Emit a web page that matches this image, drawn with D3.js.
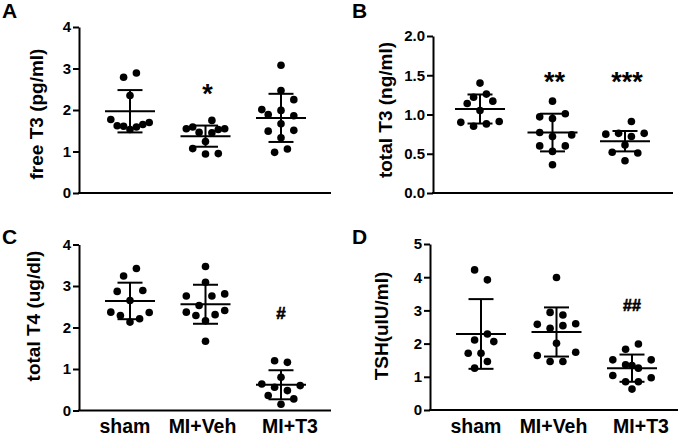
<!DOCTYPE html>
<html>
<head>
<meta charset="utf-8">
<script src="https://cdn.jsdelivr.net/npm/d3@7"></script>
<style>
  html, body { margin: 0; padding: 0; background: #fff; }
  svg { display: block; }
  text { font-family: Arial, "Liberation Sans", sans-serif; font-weight: bold; fill: #000; }
</style>
</head>
<body>
<div id="chart"></div>
<script>
// ---------- data ----------
const groups = ["sham", "MI+Veh", "MI+T3"];

// Panel A: free T3 (pg/ml)
const freeT3 = [
  [2.79, 2.89, 2.35, 1.77, 1.62, 1.61, 1.53, 1.59, 1.65, 1.70],
  [1.75, 1.55, 1.59, 1.46, 1.45, 1.53, 1.55, 1.24, 1.07, 0.94, 0.95],
  [3.08, 2.47, 2.25, 2.01, 1.89, 1.99, 1.86, 1.67, 1.49, 1.51, 1.33, 0.98, 1.06]
];
const freeT3Slots = [
  [-1, 1, 0, -3, -2, -1, 0, 1, 2, 3],
  [1, -3, -2, -1, 1, 2, 3, 0, -2, 0, 2],
  [0, 0, 2, -3, -2, 0, 2, 0, -2, 2, 0, -1, 1]
];
const freeT3Mean = [1.97, 1.37, 1.81];
const freeT3SD = [0.51, 0.255, 0.58];
const freeT3Sig = ["", "*", ""];
const freeT3SigAt = 2.55;

// Panel B: total T3 (ng/ml)
const totalT3 = [
  [1.40, 1.26, 1.22, 1.14, 1.17, 1.05, 0.90, 0.85, 0.88, 0.91],
  [1.17, 0.97, 0.95, 1.01, 0.77, 0.72, 0.74, 0.60, 0.60, 0.53, 0.36],
  [0.91, 0.75, 0.76, 0.72, 0.76, 0.61, 0.52, 0.51, 0.41]
];
const totalT3Slots = [
  [0, 1, -1, -2, 2, 0, -3, -1, 1, 3],
  [0, -2, 0, 2, -2, 0, 3, -2, 2, 0, 0],
  [1, -3, -1, 1, 3, 0, -2, 2, 0]
];
const totalT3Mean = [1.07, 0.77, 0.66];
const totalT3SD = [0.185, 0.24, 0.13];
const totalT3Sig = ["", "**", "***"];
const totalT3SigAt = 1.50;

// Panel C: total T4 (ug/dl)
const totalT4 = [
  [3.42, 3.24, 2.87, 2.89, 2.65, 2.37, 2.29, 2.13, 2.21, 2.36],
  [3.47, 3.09, 2.76, 2.76, 2.81, 2.53, 2.37, 2.29, 2.31, 2.41, 2.16, 1.67],
  [1.20, 1.16, 0.80, 0.64, 0.56, 0.48, 0.60, 0.36, 0.28, 0.15]
];
const totalT4Slots = [
  [1, -1, -2, 2, 0, -3, -1.5, 0, 1.5, 3],
  [0, 0, -3, 1, 3, -1, -3, -1.5, 1.5, 3, 0, 0],
  [-1, 1, 0, -3, -1, 1, 3, -2, 2, 0]
];
const totalT4Mean = [2.64, 2.56, 0.62];
const totalT4SD = [0.44, 0.47, 0.35];
const totalT4Sig = ["", "", "#"];
const totalT4SigAt = 2.35;

// Panel D: TSH (uIU/ml)
const tsh = [
  [4.22, 3.92, 2.29, 2.11, 2.06, 1.71, 1.71, 1.46, 1.26],
  [3.99, 2.94, 2.86, 2.58, 2.46, 2.54, 2.60, 2.01, 1.64, 1.74, 1.46, 1.46],
  [1.99, 1.83, 1.51, 1.51, 1.36, 1.34, 1.26, 1.04, 0.97, 0.85, 0.85, 0.63]
];
const tshSlots = [
  [-1, 1, 1, -1, 2, -2, 0, 1, -1],
  [0, -1, 1, -3, -1, 1, 3, 0, -3, 3, -1, 1],
  [1, -1, -3, 3, -1, 0, 1, -3, 3, -1, 1, 0]
];
const tshMean = [2.29, 2.35, 1.26];
const tshSD = [1.05, 0.74, 0.41];
const tshSig = ["", "", "##"];
const tshSigAt = 3.15;

const yTicksA = [0, 1, 2, 3, 4];
const yTicksB = [0, 0.5, 1.0, 1.5, 2.0];
const yTicksC = [0, 1, 2, 3, 4];
const yTicksD = [0, 1, 2, 3, 4, 5];

// ---------- drawing ----------
const W = 685, H = 441;
const svg = d3.select("#chart").append("svg")
  .attr("width", W).attr("height", H)
  .attr("viewBox", `0 0 ${W} ${H}`);
svg.append("rect").attr("width", W).attr("height", H).attr("fill", "#fff");

const slotW = 6.4, dotR = 3.8, meanHalf = 25, capHalf = 12.5;

function panel(opt) {
  const g = svg.append("g");
  const y = d3.scaleLinear().domain(opt.domain).range([opt.yBottom, opt.yTop]);
  const x = d3.scalePoint().domain(groups).range(opt.centers);

  // y axis
  const ax = g.append("g")
    .attr("transform", `translate(${opt.x0},0)`)
    .call(d3.axisLeft(y).tickValues(opt.ticks).tickFormat(opt.fmt)
      .tickSize(6).tickSizeOuter(0).tickPadding(2));
  ax.select(".domain").attr("stroke", "#000").attr("stroke-width", 2);
  ax.selectAll(".tick line").attr("stroke", "#000").attr("stroke-width", 2);
  ax.selectAll(".tick text").style("font-size", "15px").style("font-weight", "bold")
    .attr("fill", "#000").style("font-family", 'Arial, "Liberation Sans", sans-serif');

  // x axis line
  g.append("line")
    .attr("x1", opt.x0 - 1).attr("x2", opt.x1)
    .attr("y1", y(0)).attr("y2", y(0))
    .attr("stroke", "#000").attr("stroke-width", 2);

  // y title
  g.append("text")
    .attr("transform", `translate(${opt.titleX},${opt.titleY}) rotate(-90)`)
    .attr("text-anchor", "middle").attr("dominant-baseline", "central")
    .style("font-size", "19px")
    .text(opt.title);

  // panel letter
  g.append("text").attr("x", opt.letterX).attr("y", opt.letterY)
    .style("font-size", "21px").text(opt.letter);

  groups.forEach((grp, i) => {
    const cx = x(grp);
    const m = opt.mean[i], s = opt.sd[i];
    // dots
    g.selectAll(null).data(opt.values[i].map((v, k) => ({ v, s: opt.slots[i][k] })))
      .enter().append("circle")
      .attr("cx", d => cx + d.s * slotW)
      .attr("cy", d => y(d.v))
      .attr("r", dotR)
      .attr("fill", "#000");
    // error bar
    g.append("line").attr("x1", cx).attr("x2", cx)
      .attr("y1", y(m + s)).attr("y2", y(m - s))
      .attr("stroke", "#000").attr("stroke-width", 2);
    [m + s, m - s].forEach(v => {
      g.append("line").attr("x1", cx - capHalf).attr("x2", cx + capHalf)
        .attr("y1", y(v)).attr("y2", y(v))
        .attr("stroke", "#000").attr("stroke-width", 2);
    });
    g.append("line").attr("x1", cx - meanHalf).attr("x2", cx + meanHalf)
      .attr("y1", y(m)).attr("y2", y(m))
      .attr("stroke", "#000").attr("stroke-width", 2);
    // significance
    const sig = opt.sig[i];
    if (sig) {
      const isStar = sig.indexOf("*") >= 0;
      const fs = isStar ? 27 : (sig.length > 1 ? 16 : 17);
      g.append("text")
        .attr("x", cx + (isStar ? 2 : 0))
        .attr("y", y(opt.sigAt) + (isStar ? 0.57 * fs : 0.36 * fs))
        .attr("text-anchor", "middle")
        .style("font-size", fs + "px")
        .style("stroke", "#000").style("stroke-width", isStar ? 0 : 0.6)
        .text(sig);
    }
  });

  if (opt.showX) {
    const nudge = [-5, -3, 9];
    groups.forEach((grp, i) => {
      g.append("text")
        .attr("x", x(grp) + nudge[i]).attr("y", 433)
        .attr("text-anchor", "middle")
        .style("font-size", "19.5px")
        .text(grp);
    });
  }
}

panel({
  letter: "A", letterX: 2, letterY: 18,
  title: "free T3 (pg/ml)", titleX: 36, titleY: 114,
  x0: 79, x1: 331, yTop: 27, yBottom: 193, domain: [0, 4],
  ticks: yTicksA, fmt: d3.format("d"), centers: [130, 281],
  values: freeT3, slots: freeT3Slots, mean: freeT3Mean, sd: freeT3SD,
  sig: freeT3Sig, sigAt: freeT3SigAt, showX: false
});
panel({
  letter: "B", letterX: 352, letterY: 18,
  title: "total T3 (ng/ml)", titleX: 385, titleY: 110,
  x0: 433, x1: 673, yTop: 36, yBottom: 193, domain: [0, 2],
  ticks: yTicksB, fmt: d3.format(".1f"), centers: [480, 625],
  values: totalT3, slots: totalT3Slots, mean: totalT3Mean, sd: totalT3SD,
  sig: totalT3Sig, sigAt: totalT3SigAt, showX: false
});
panel({
  letter: "C", letterX: 2, letterY: 244,
  title: "total T4 (ug/dl)", titleX: 33, titleY: 316,
  x0: 79, x1: 331, yTop: 244.5, yBottom: 410.5, domain: [0, 4],
  ticks: yTicksC, fmt: d3.format("d"), centers: [130, 281],
  values: totalT4, slots: totalT4Slots, mean: totalT4Mean, sd: totalT4SD,
  sig: totalT4Sig, sigAt: totalT4SigAt, showX: true
});
panel({
  letter: "D", letterX: 352, letterY: 244,
  title: "TSH(uIU/ml)", titleX: 381.5, titleY: 326,
  x0: 430, x1: 678, yTop: 244, yBottom: 410, domain: [0, 5],
  ticks: yTicksD, fmt: d3.format("d"), centers: [481, 632],
  values: tsh, slots: tshSlots, mean: tshMean, sd: tshSD,
  sig: tshSig, sigAt: tshSigAt, showX: true
});
</script>
</body>
</html>
